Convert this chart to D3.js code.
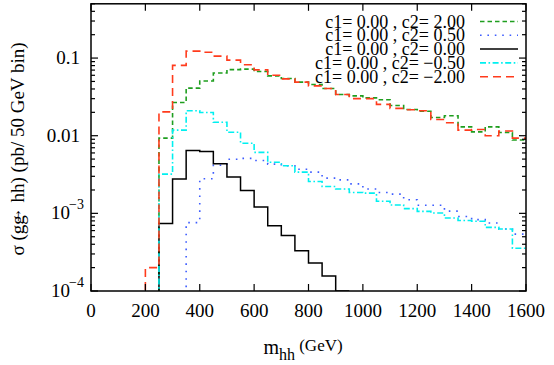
<!DOCTYPE html>
<html><head><meta charset="utf-8">
<script src="https://cdn.jsdelivr.net/npm/d3@7"></script>
<style>body{margin:0;background:#fff}svg{display:block}text{font-family:"Liberation Serif","DejaVu Serif",serif;fill:#000}</style>
</head><body><svg id="c" width="554" height="365"></svg>
<script>
// bin width 50 GeV; each series lists its first bin start and values per bin
const binWidth = 50;
const xTicks = [0,200,400,600,800,1000,1200,1400,1600];
const yMajor = [1e-4,1e-3,1e-2,1e-1];
const seriesLabels = ["c1= 0.00 , c2= 2.00","c1= 0.00 , c2= 0.50","c1= 0.00 , c2= 0.00","c1= 0.00 , c2= \u22120.50","c1= 0.00 , c2= \u22122.00"];
const greenStart = 250;
const greenVals = [0.0093,0.0268,0.041,0.0507,0.0642,0.071,0.072,0.0672,0.059,0.0545,0.049,0.0456,0.0406,0.034,0.0326,0.0307,0.0291,0.0245,0.0218,0.0207,0.0172,0.0181,0.013,0.0112,0.013,0.011,0.0088];
const blueStart = 350;
const blueVals = [0.00076,0.00279,0.00417,0.00498,0.0051,0.0048,0.0043,0.0041,0.0037,0.0034,0.00284,0.0027,0.0024,0.00206,0.00186,0.00177,0.0015,0.00127,0.00127,0.00107,0.00091,0.00083,0.00075,0.00063,0.00054];
const blackStart = 250;
const blackVals = [0.00074,0.00276,0.00643,0.00624,0.00434,0.00293,0.00197,0.00121,0.000695,0.00052,0.00033,0.00023,0.000156,0.0001];
const cyanStart = 250;
const cyanVals = [0.0032,0.0118,0.021,0.0199,0.0149,0.0111,0.008,0.0061,0.00456,0.0041,0.0034,0.00257,0.00222,0.00206,0.00186,0.00182,0.00143,0.00128,0.00115,0.00106,0.00101,0.00087,0.00081,0.00079,0.00066,0.00063,0.000355];
const redStart = 200;
const redVals = [0.0002,0.0203,0.0806,0.123,0.119,0.106,0.094,0.082,0.0705,0.06,0.054,0.049,0.0438,0.0406,0.034,0.030,0.030,0.0253,0.0225,0.0216,0.021,0.0162,0.0147,0.0118,0.012,0.010,0.0115,0.0093];

const L=91, R=526, T=3.8, B=291;
const FONT = "Liberation Serif, DejaVu Serif, serif";
const svg = d3.select("#c");
const x = d3.scaleLinear().domain([0,1600]).range([L,R]);
const y = d3.scaleLog().domain([1e-4,0.5]).range([B,T]);

svg.append("defs").append("clipPath").attr("id","clip").append("rect")
  .attr("x",L).attr("y",T).attr("width",R-L).attr("height",B-T);

function steps(start, vals){
  const pts = [[start, 1e-7]];
  vals.forEach((v,i)=>{ pts.push([start+i*binWidth, v]); pts.push([start+(i+1)*binWidth, v]); });
  return pts;
}
const line = d3.line().x(d=>x(d[0])).y(d=>y(d[1]));
const series = [
  {start:greenStart, vals:greenVals, color:"#1f9e1f", dash:"4.5,3", w:1.6},
  {start:blueStart, vals:blueVals, color:"#3d5cff", dash:"1.6,5.8", w:1.6},
  {start:blackStart, vals:blackVals, color:"#000", dash:null, w:1.5},
  {start:cyanStart, vals:cyanVals, color:"#00f0f0", dash:"6,2.5,1.6,2.5", w:1.6},
  {start:redStart, vals:redVals, color:"#ff3b1c", dash:"8,5", w:1.6}
];
const g = svg.append("g").attr("clip-path","url(#clip)");
series.forEach(s=>{
  g.append("path").attr("d", line(steps(s.start,s.vals)))
    .attr("fill","none").attr("stroke",s.color).attr("stroke-width",s.w)
    .attr("stroke-dasharray",s.dash);
});

// axes
const ax = svg.append("g").attr("stroke","#000").attr("stroke-width",1.2);
const minor = [];
for (let e=-4;e<=-1;e++) for (let m=2;m<=9;m++){ const v=m*Math.pow(10,e); if(v<=0.5) minor.push(v); }
xTicks.forEach(t=>{
  ax.append("line").attr("x1",x(t)).attr("x2",x(t)).attr("y1",B).attr("y2",B-7);
  ax.append("line").attr("x1",x(t)).attr("x2",x(t)).attr("y1",T).attr("y2",T+7);
});
yMajor.forEach(t=>{
  ax.append("line").attr("x1",L).attr("x2",L+7).attr("y1",y(t)).attr("y2",y(t));
  ax.append("line").attr("x1",R).attr("x2",R-7).attr("y1",y(t)).attr("y2",y(t));
});
minor.forEach(t=>{
  ax.append("line").attr("x1",L).attr("x2",L+4).attr("y1",y(t)).attr("y2",y(t));
  ax.append("line").attr("x1",R).attr("x2",R-4).attr("y1",y(t)).attr("y2",y(t));
});
svg.append("rect").attr("x",L).attr("y",T).attr("width",R-L).attr("height",B-T)
  .attr("fill","none").attr("stroke","#000").attr("stroke-width",1.5);

// tick labels
xTicks.forEach(t=>{
  svg.append("text").attr("x",x(t)).attr("y",317).attr("text-anchor","middle")
    .attr("font-family",FONT).attr("font-size",19).text(t);
});
const yLab = svg.append("g");
[[0.1,"0.1",null],[0.01,"0.01",null],[1e-3,"10","\u22123"],[1e-4,"10","\u22124"]].forEach(([v,base,sup])=>{
  yLab.append("text").attr("x",sup?70:80).attr("y",y(v)+6).attr("text-anchor","end")
    .attr("font-family",FONT).attr("font-size",19).text(base);
  if(sup){
    yLab.append("text").attr("x",69).attr("y",y(v)-4).attr("font-family",FONT).attr("font-size",14).text(sup);
  }
});

// axis titles
const yt = svg.append("text").attr("transform","translate(24,149) rotate(-90)")
  .attr("text-anchor","middle").attr("font-family",FONT).attr("font-size",19);
yt.append("tspan").text("\u03c3 (gg");
yt.append("tspan").attr("dx",-9).attr("dy",-3).attr("font-size",17).text("\u2192");
yt.append("tspan").attr("dy",3).text(" hh) (pb/ 50 GeV bin)");

const xt = svg.append("text").attr("x",303).attr("y",354).attr("text-anchor","middle")
  .attr("font-family",FONT).attr("font-size",20);
xt.append("tspan").text("m");
xt.append("tspan").attr("dy",6).attr("font-size",16).text("hh");
xt.append("tspan").attr("dy",-9).attr("font-size",17).text(" (GeV)");

// legend
const lg = svg.append("g");
seriesLabels.forEach((lab,i)=>{
  const yy = 21.5 + i*13.8;
  lg.append("text").attr("x",465).attr("y",yy+6).attr("text-anchor","end")
    .attr("font-family",FONT).attr("font-size",18).text(lab);
  const s = series[i];
  lg.append("line").attr("x1",480).attr("x2",518).attr("y1",yy).attr("y2",yy)
    .attr("stroke",s.color).attr("stroke-width",s.w).attr("stroke-dasharray",s.dash);
});
</script></body></html>
